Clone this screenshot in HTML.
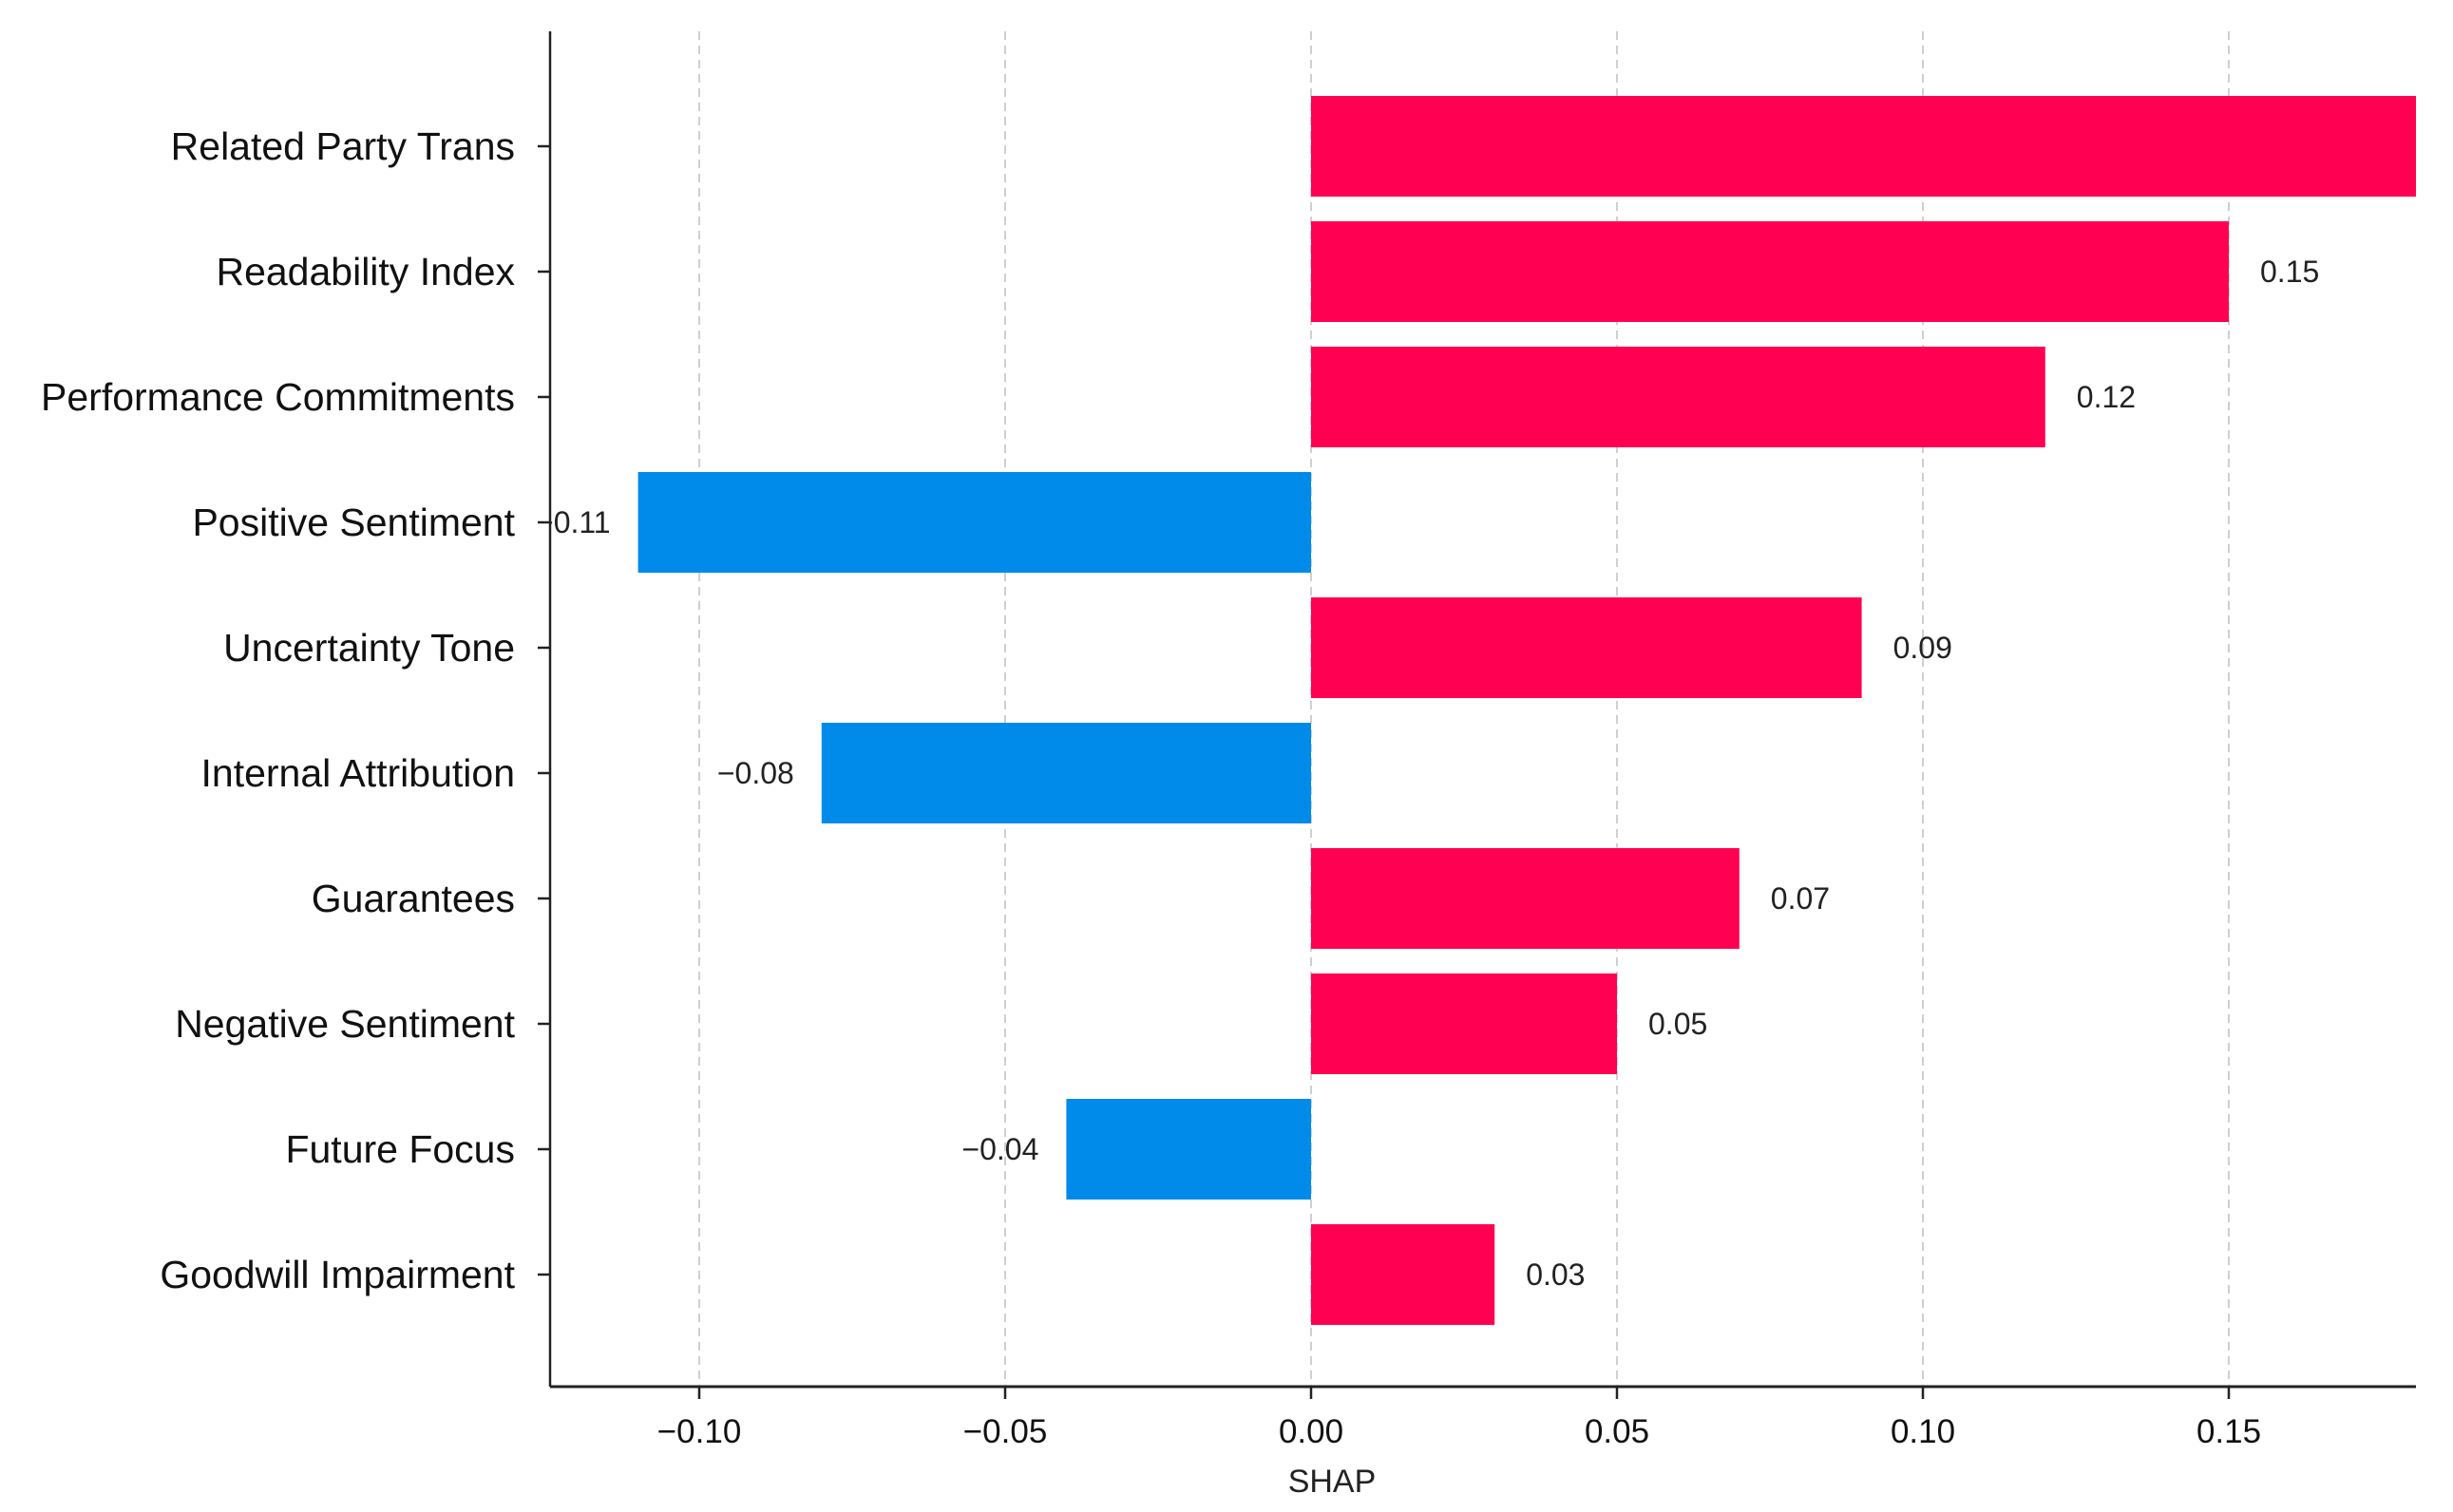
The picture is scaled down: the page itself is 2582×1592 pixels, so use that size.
<!DOCTYPE html>
<html><head><meta charset="utf-8"><style>
html,body{margin:0;padding:0;background:#fff;}
svg{display:block;font-family:"Liberation Sans",sans-serif;}
</style></head><body>
<svg id="chart" width="2582" height="1592" viewBox="0 0 2582 1592" xmlns="http://www.w3.org/2000/svg"></svg>
<script>
const categories = ["Related Party Trans","Readability Index","Performance Commitments","Positive Sentiment","Uncertainty Tone","Internal Attribution","Guarantees","Negative Sentiment","Future Focus","Goodwill Impairment"];
const shapValues = [0.19,0.15,0.12,-0.11,0.09,-0.08,0.07,0.05,-0.04,0.03];
const valueLabels = ["0.19","0.15","0.12","\u22120.11","0.09","\u22120.08","0.07","0.05","\u22120.04","0.03"];
const xTicks = [-0.10,-0.05,0.00,0.05,0.10,0.15];
const xTickLabels = ["\u22120.10","\u22120.05","0.00","0.05","0.10","0.15"];

const NS="http://www.w3.org/2000/svg";
const svg=document.getElementById('chart');
const axisLeft=579, axisRight=2543, axisTop=33, axisBottom=1460;
const zeroX=1380, pxPerUnit=6440;
const x=v=>zeroX+v*pxPerUnit;
const rowY0=154, rowStep=132.0, barH=106;
const y=i=>rowY0+i*rowStep;
function mk(tag,attrs,parent){const e=document.createElementNS(NS,tag);for(const k in attrs)e.setAttribute(k,attrs[k]);(parent||svg).appendChild(e);return e;}

const clip=mk('clipPath',{id:'plotclip'});
mk('rect',{x:axisLeft,y:0,width:axisRight-axisLeft,height:axisBottom},clip);

xTicks.forEach((t,i)=>{
  const g=mk('line',{x1:x(t),x2:x(t),y1:axisTop,y2:axisBottom,stroke:'#cfcfcf','stroke-width':2,'stroke-dasharray':'9,6'});
  
  
});

const barsG=mk('g',{'clip-path':'url(#plotclip)'});


shapValues.forEach((v,i)=>{
  const x0=Math.min(x(0),x(v)), w=Math.abs(x(v)-x(0));
  const r=mk('rect',{x:x0,y:y(i)-barH/2,width:w,height:barH,fill:v>=0?'#ff0052':'#008bea'},barsG);
  
  
  const t=mk('text',{y:y(i)+11,'font-size':32,fill:'#222'},barsG);
  if(v>=0){t.setAttribute('x',x(v)+33);t.setAttribute('text-anchor','start');}
  else{t.setAttribute('x',x(v)-29);t.setAttribute('text-anchor','end');}
  t.textContent=valueLabels[i];
  
  
});

const ya=mk('line',{x1:axisLeft,x2:axisLeft,y1:axisTop,y2:axisBottom,stroke:'#222','stroke-width':2.5});


const xa=mk('line',{x1:axisLeft,x2:axisRight,y1:axisBottom,y2:axisBottom,stroke:'#222','stroke-width':3});



categories.forEach((c,i)=>{
  mk('line',{x1:axisLeft-13,x2:axisLeft,y1:y(i),y2:y(i),stroke:'#222','stroke-width':2.5});
  const t=mk('text',{x:axisLeft-37,y:y(i)+14,'font-size':41,fill:'#111','text-anchor':'end'});
  t.textContent=c;
  
  
});
xTicks.forEach((tv,i)=>{
  mk('line',{x1:x(tv),x2:x(tv),y1:axisBottom,y2:axisBottom+13,stroke:'#222','stroke-width':2.5});
  const t=mk('text',{x:x(tv),y:1519,'font-size':35,fill:'#111','text-anchor':'middle'});
  t.textContent=xTickLabels[i];
  
  
});
const xt=mk('text',{x:x(0)+22,y:1571,'font-size':34,fill:'#222','text-anchor':'middle'});
xt.textContent='SHAP';


</script>
</body></html>
